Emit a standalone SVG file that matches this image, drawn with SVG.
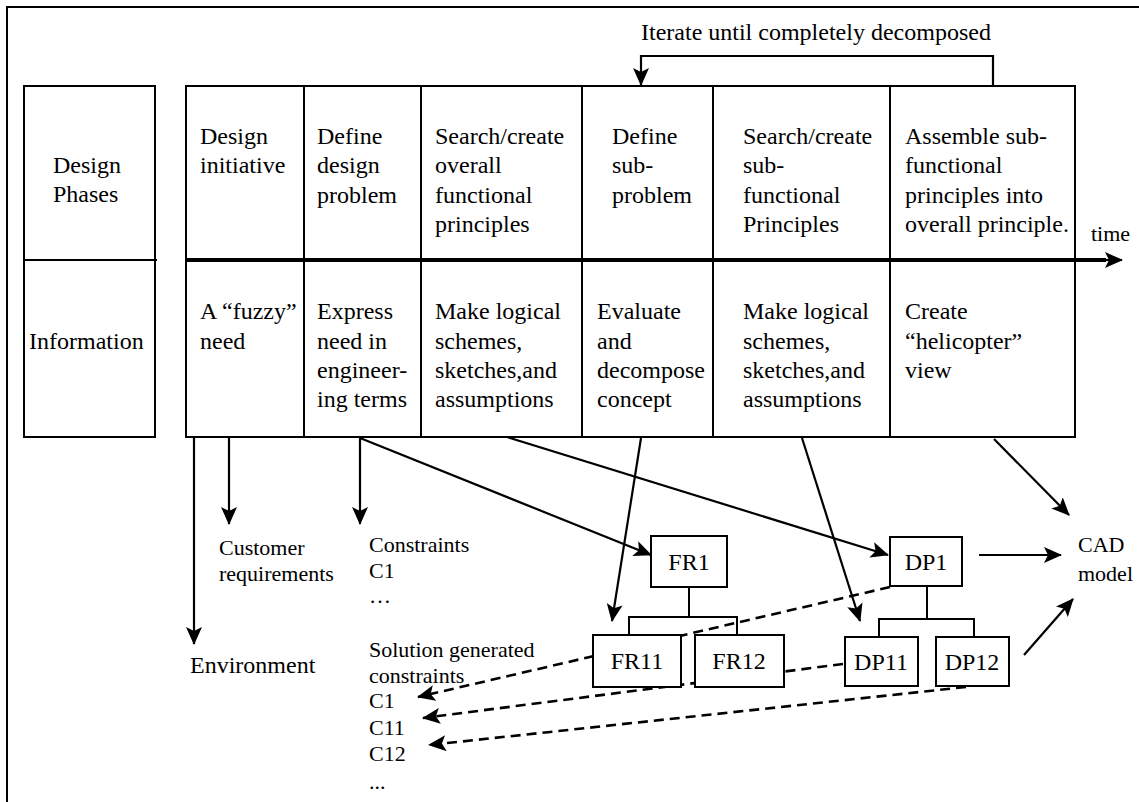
<svg xmlns="http://www.w3.org/2000/svg" width="1139" height="802" viewBox="0 0 1139 802">
<style>
text{font-family:"Liberation Serif","Times New Roman",serif;fill:#000}
.t24{font-size:24px}
.t22{font-size:22px}
.box{fill:#fff;stroke:#000;stroke-width:2}
.ln{fill:none;stroke:#000;stroke-width:2}
.arr{fill:none;stroke:#000;stroke-width:2.2;marker-end:url(#ah)}
.dash{fill:none;stroke:#000;stroke-width:2.6;stroke-dasharray:10,6;marker-end:url(#ah)}
</style>
<defs>
<marker id="ah" viewBox="0 0 18 16" refX="17" refY="8" markerWidth="18" markerHeight="16" markerUnits="userSpaceOnUse" orient="auto">
<path d="M0,0 L18,8 L0,16 L4,8 z" fill="#000"/>
</marker>
</defs>
<rect width="1139" height="802" fill="#fff"/>
<g id="frame">
<path class="ln" d="M7,802 V7 H1139"/>
</g>
<g id="connectors">
<path class="arr" d="M993,86 V56 H641 V85"/>
<path d="M186,260 H1106" stroke="#000" stroke-width="4" fill="none"/>
<path class="arr" d="M1100,260 H1122"/>
<path class="arr" d="M194,437 V644"/>
<path class="arr" d="M229,437 V524"/>
<path class="arr" d="M360,437 V524"/>
<path class="arr" d="M360,438 L651,555"/>
<path class="arr" d="M507,437 L888,555"/>
<path class="arr" d="M641,438 L612,621"/>
<path class="arr" d="M802,438 L860,621"/>
<path class="arr" d="M994,439 L1069,515"/>
<path class="arr" d="M979,555 H1061"/>
<path class="arr" d="M1024,655 L1073,599"/>
<path class="dash" d="M890,587 L418,697"/>
<path class="dash" d="M843,664 L423,718"/>
<path class="dash" d="M966,687 L429,745"/>
<path class="ln" d="M689,588 V617 M629,636 V617 H737 V636"/>
<path class="ln" d="M927,586 V619 M879,637 V619 H974 V637"/>
</g>
<g id="loop-label">
<text class="t24" x="641" y="40">Iterate until completely decomposed</text>
</g>
<g id="time-label">
<text class="t22" x="1091" y="241">time</text>
</g>
<g id="row-headers">
<rect class="box" x="24" y="86" width="131" height="351"/>
<path class="ln" d="M24,260 H157"/>
<text class="t24"><tspan x="53" y="173">Design</tspan><tspan x="53" y="202">Phases</tspan></text>
<text class="t24" x="29" y="349">Information</text>
</g>
<g id="table">
<rect class="box" x="186" y="86" width="889" height="351"/>
<path class="ln" d="M304,86 V437 M421,86 V437 M582,86 V437 M713,86 V437 M890,86 V437"/>
<path d="M186,260 H1075" stroke="#000" stroke-width="4"/>
</g>
<g id="phase-1">
<text class="t24"><tspan x="200" y="144">Design</tspan><tspan x="200" y="173">initiative</tspan></text>
<text class="t24"><tspan x="200" y="319">A “fuzzy”</tspan><tspan x="200" y="349">need</tspan></text>
</g>
<g id="phase-2">
<text class="t24"><tspan x="317" y="144">Define</tspan><tspan x="317" y="173">design</tspan><tspan x="317" y="203">problem</tspan></text>
<text class="t24"><tspan x="317" y="319">Express</tspan><tspan x="317" y="349">need in</tspan><tspan x="317" y="378">engineer-</tspan><tspan x="317" y="407">ing terms</tspan></text>
</g>
<g id="phase-3">
<text class="t24"><tspan x="435" y="144">Search/create</tspan><tspan x="435" y="173">overall</tspan><tspan x="435" y="203">functional</tspan><tspan x="435" y="232">principles</tspan></text>
<text class="t24"><tspan x="435" y="319">Make logical</tspan><tspan x="435" y="349">schemes,</tspan><tspan x="435" y="378">sketches,and</tspan><tspan x="435" y="407">assumptions</tspan></text>
</g>
<g id="phase-4">
<text class="t24"><tspan x="612" y="144">Define</tspan><tspan x="612" y="173">sub-</tspan><tspan x="612" y="203">problem</tspan></text>
<text class="t24"><tspan x="597" y="319">Evaluate</tspan><tspan x="597" y="349">and</tspan><tspan x="597" y="378">decompose</tspan><tspan x="597" y="407">concept</tspan></text>
</g>
<g id="phase-5">
<text class="t24"><tspan x="743" y="144">Search/create</tspan><tspan x="743" y="173">sub-</tspan><tspan x="743" y="203">functional</tspan><tspan x="743" y="232">Principles</tspan></text>
<text class="t24"><tspan x="743" y="319">Make logical</tspan><tspan x="743" y="349">schemes,</tspan><tspan x="743" y="378">sketches,and</tspan><tspan x="743" y="407">assumptions</tspan></text>
</g>
<g id="phase-6">
<text class="t24"><tspan x="905" y="144">Assemble sub-</tspan><tspan x="905" y="173">functional</tspan><tspan x="905" y="203">principles into</tspan><tspan x="905" y="232">overall principle.</tspan></text>
<text class="t24"><tspan x="905" y="319">Create</tspan><tspan x="905" y="349">“helicopter”</tspan><tspan x="905" y="378">view</tspan></text>
</g>
<g id="environment"><text class="t24" x="190" y="673">Environment</text></g>
<g id="customer-requirements"><text class="t22"><tspan x="219" y="555">Customer</tspan><tspan x="219" y="581">requirements</tspan></text></g>
<g id="constraints"><text class="t22"><tspan x="369" y="552">Constraints</tspan><tspan x="369" y="578">C1</tspan><tspan x="369" y="603">…</tspan></text></g>
<g id="solution-constraints"><text class="t22"><tspan x="369" y="657">Solution generated</tspan><tspan x="369" y="683">constraints</tspan><tspan x="369" y="708">C1</tspan><tspan x="369" y="735">C11</tspan><tspan x="369" y="761">C12</tspan><tspan x="369" y="789">...</tspan></text></g>
<g id="FR1"><rect class="box" x="651" y="536" width="76" height="51"/><text class="t24" x="689" y="570" text-anchor="middle">FR1</text></g>
<g id="FR11"><rect class="box" x="593" y="635" width="88" height="52"/><text class="t24" x="637" y="669" text-anchor="middle">FR11</text></g>
<g id="FR12"><rect class="box" x="695" y="635" width="89" height="52"/><text class="t24" x="739" y="669" text-anchor="middle">FR12</text></g>
<g id="DP1"><rect class="box" x="890" y="537" width="72" height="49"/><text class="t24" x="926" y="570" text-anchor="middle">DP1</text></g>
<g id="DP11"><rect class="box" x="845" y="637" width="73" height="49"/><text class="t24" x="881" y="670" text-anchor="middle">DP11</text></g>
<g id="DP12"><rect class="box" x="936" y="637" width="73" height="49"/><text class="t24" x="972" y="670" text-anchor="middle">DP12</text></g>
<g id="CAD-model"><text class="t22"><tspan x="1078" y="552">CAD</tspan><tspan x="1078" y="581">model</tspan></text></g>
</svg>
